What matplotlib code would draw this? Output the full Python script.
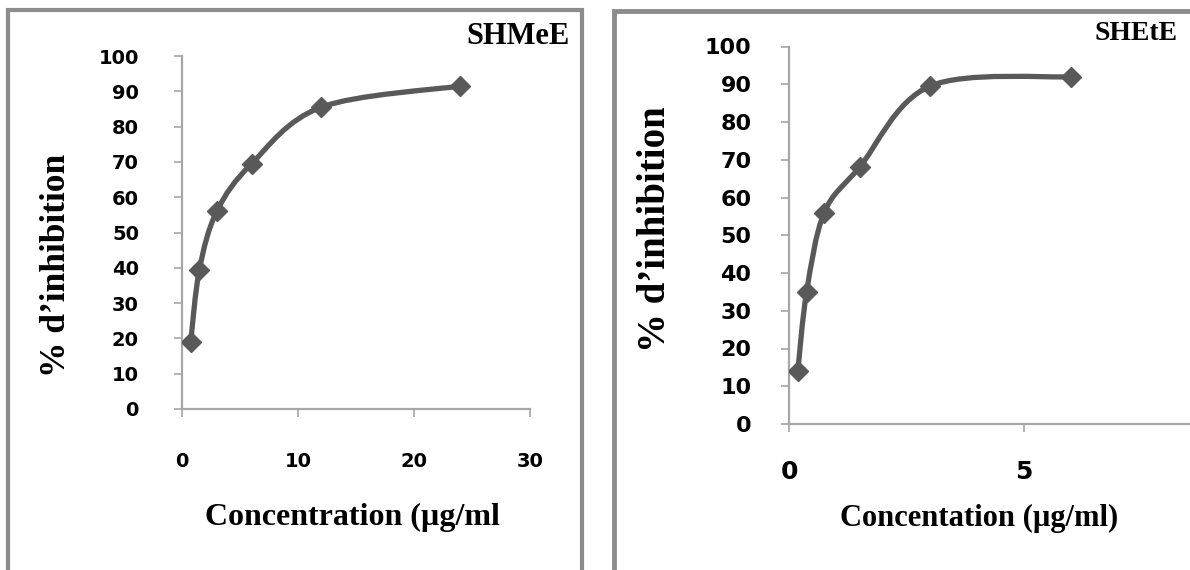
import matplotlib

matplotlib.use("Agg")
import matplotlib.pyplot as plt
import numpy as np
from matplotlib.patches import PathPatch, Rectangle
from matplotlib.path import Path

# --- Data ---
conc_meoh = [0.75, 1.5, 3, 6, 12, 24]
inhib_meoh = [19, 39.5, 56, 69.5, 85.5, 91.5]

conc_etoh = [0.1875, 0.375, 0.75, 1.5, 3, 6]
inhib_etoh = [14, 35, 56, 68, 89.5, 92]

yticks = [0, 10, 20, 30, 40, 50, 60, 70, 80, 90, 100]
xticks_meoh = [0, 10, 20, 30]
xticks_etoh = [0, 5]

LINE_COLOR = "#595959"
AXIS_COLOR = "#a6a6a6"
FRAME_COLOR = "#8c8c8c"
SERIF = "Liberation Serif"
SANS = "DejaVu Sans"


def smooth_line(ax, xs, ys, **kw):
    """Excel-style smoothed line: Catmull-Rom Bezier built in display space."""
    pts = ax.transData.transform(np.column_stack([xs, ys]))
    n = len(pts)
    verts = [pts[0]]
    codes = [Path.MOVETO]
    for i in range(n - 1):
        p0 = pts[max(i - 1, 0)]
        p1 = pts[i]
        p2 = pts[i + 1]
        p3 = pts[min(i + 2, n - 1)]
        c1 = p1 + (p2 - p0) / 6.0
        c2 = p2 - (p3 - p1) / 6.0
        verts += [c1, c2, p2]
        codes += [Path.CURVE4] * 3
    data_verts = ax.transData.inverted().transform(np.array(verts))
    patch = PathPatch(Path(data_verts, codes), fill=False, **kw)
    ax.add_patch(patch)


def style_axes(ax, xlim, xticks, ytick_size, xtick_size, ypad, xpad):
    ax.set_xlim(*xlim)
    ax.set_ylim(0, 100)
    ax.set_xticks(xticks)
    ax.set_yticks(yticks)
    for side in ("top", "right"):
        ax.spines[side].set_visible(False)
    for side in ("left", "bottom"):
        ax.spines[side].set_color(AXIS_COLOR)
        ax.spines[side].set_linewidth(1.6)
    ax.tick_params(axis="both", direction="out", length=6, width=1.2,
                   color=AXIS_COLOR, labelcolor="black")
    ax.tick_params(axis="y", pad=ypad)
    ax.tick_params(axis="x", pad=xpad)
    for lab in ax.get_yticklabels():
        lab.set_fontfamily(SANS)
        lab.set_fontweight("heavy")
        lab.set_fontsize(ytick_size)
    for lab in ax.get_xticklabels():
        lab.set_fontfamily(SANS)
        lab.set_fontweight("heavy")
        lab.set_fontsize(xtick_size)
    ax.patch.set_alpha(0)


fig = plt.figure(figsize=(11.9, 5.7), dpi=100)

# --- Panel frames ---
fig.patches.append(Rectangle((8 / 1190, -0.1), 574 / 1190, 1.1 - 10 / 570,
                             transform=fig.transFigure, fill=False,
                             edgecolor=FRAME_COLOR, linewidth=3))
fig.patches.append(Rectangle((614 / 1190, -0.1), 0.6, 1.1 - 11 / 570,
                             transform=fig.transFigure, fill=False,
                             edgecolor=FRAME_COLOR, linewidth=3.5))

# --- Left panel: SHMeE ---
ax1 = fig.add_axes([182 / 1190, 161 / 570, 348 / 1190, 353 / 570])
style_axes(ax1, (0, 30), xticks_meoh, 14, 14, 25, 25)
smooth_line(ax1, conc_meoh, inhib_meoh, edgecolor=LINE_COLOR, linewidth=3.8,
            capstyle="round", joinstyle="round", zorder=3)
ax1.plot(conc_meoh, inhib_meoh, linestyle="none", marker="D", markersize=10,
         color=LINE_COLOR, zorder=4)
ax1.set_xlabel("Concentration (µg/ml", fontsize=23, fontfamily=SERIF,
               fontweight="bold", va="center")
ax1.xaxis.set_label_coords(0.491, -0.306)
ax1.set_ylabel("% d’inhibition", fontsize=25.5, fontfamily=SERIF,
               fontweight="bold", va="center")
ax1.yaxis.set_label_coords(-0.36, 0.4065)
fig.text(518 / 1190, 1 - 37 / 570, "SHMeE", fontsize=22, fontfamily=SERIF,
         fontweight="bold", ha="center", va="center")

# --- Right panel: SHEtE (cropped on the right like the source) ---
ax2 = fig.add_axes([789 / 1190, 146 / 570, 470 / 1190, 377.5 / 570])
style_axes(ax2, (0, 10), xticks_etoh, 16, 18, 21, 20)
smooth_line(ax2, conc_etoh, inhib_etoh, edgecolor=LINE_COLOR, linewidth=3.8,
            capstyle="round", joinstyle="round", zorder=3)
ax2.plot(conc_etoh, inhib_etoh, linestyle="none", marker="D", markersize=10,
         color=LINE_COLOR, zorder=4)
ax2.set_xlabel("Concentation (µg/ml)", fontsize=22, fontfamily=SERIF,
               fontweight="bold", va="center")
ax2.xaxis.set_label_coords(0.404, -0.249)
ax2.set_ylabel("% d’inhibition", fontsize=28, fontfamily=SERIF,
               fontweight="bold", va="center")
ax2.yaxis.set_label_coords(-0.285, 0.5166)
fig.text(1136 / 1190, 1 - 34 / 570, "SHEtE", fontsize=20, fontfamily=SERIF,
         fontweight="bold", ha="center", va="center")

fig.savefig("out.png", dpi=100)
plt.close(fig)
